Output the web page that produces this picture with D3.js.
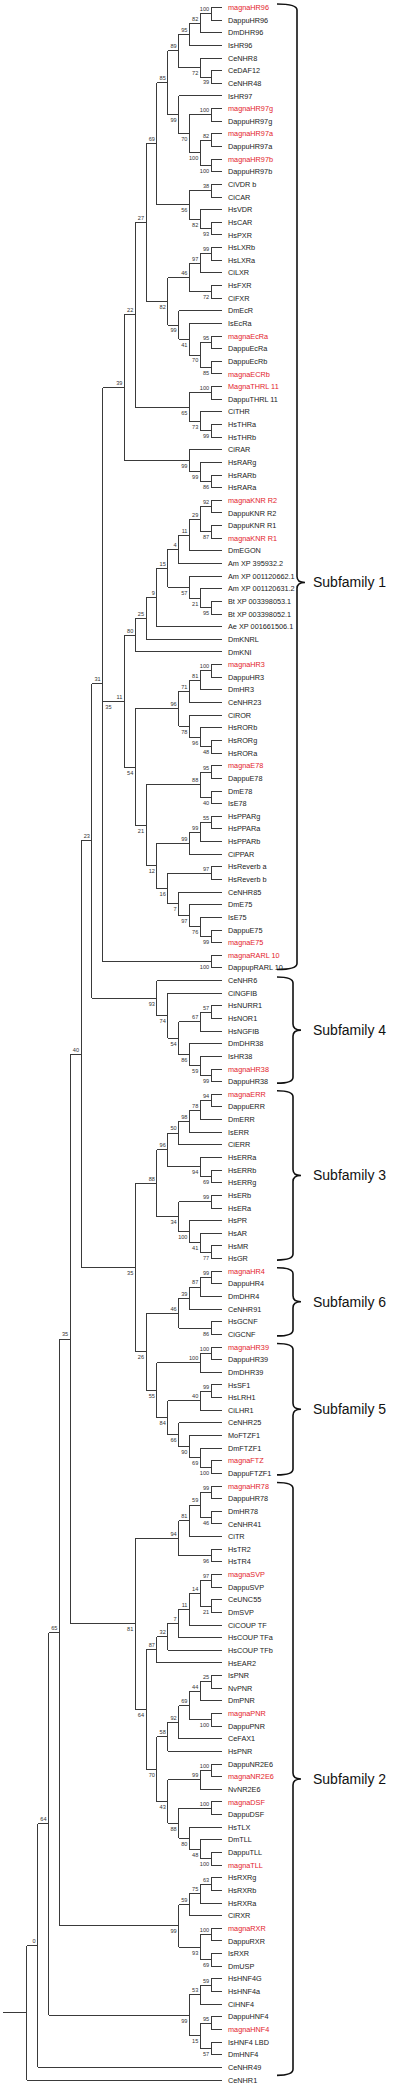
<!DOCTYPE html>
<html>
<head>
<meta charset="utf-8">
<script src="https://cdn.jsdelivr.net/npm/d3@7"></script>
<style>
  html, body { margin: 0; padding: 0; background: #fff; }
  svg { display: block; }
</style>
</head>
<body>
<script>
// ---------- DATA (tree topology with bootstrap support, in Newick pieces) ----------
const cladeHR96 = "(((((magnaHR96,DappuHR96)100,DmDHR96)82,IsHR96)95,(CeNHR8,(CeDAF12,CeNHR48)39)72)89,(IsHR97,((magnaHR97g,DappuHR97g)100,((magnaHR97a,DappuHR97a)82,(magnaHR97b,DappuHR97b)100)100)70)99)85";
const cladeVDR = "(('CiVDR b',CiCAR)38,(HsVDR,(HsCAR,HsPXR)93)82)56";
const cladeEcR = "((((HsLXRb,HsLXRa)99,CiLXR)97,(HsFXR,CiFXR)72)46,(DmEcR,(IsEcRa,((magnaEcRa,DappuEcRa)95,(DappuEcRb,magnaECRb)85)70)41)99)82";
const cladeTHR = "(('MagnaTHRL 11','DappuTHRL 11')100,(CiTHR,(HsTHRa,HsTHRb)99)73)65";
const cladeRAR = "(CiRAR,(HsRARg,(HsRARb,HsRARa)86)99)99";
const cladeKNR = "((((((((('magnaKNR R2','DappuKNR R2')92,('DappuKNR R1','magnaKNR R1')87)29,DmEGON)11,'Am XP 395932.2')4,('Am XP 001120662.1',('Am XP 001120631.2',('Bt XP 003398053.1','Bt XP 003398052.1')95)21)57)15,'Ae XP 001661506.1')9,DmKNRL)25,DmKNI)80";
const cladeROR = "((((magnaHR3,DappuHR3)100,DmHR3)81,CeNHR23)71,(CiROR,(HsRORb,(HsRORg,HsRORa)48)96)78)96";
const cladeE78 = "(((magnaE78,DappuE78)95,(DmE78,IsE78)40)88,((((HsPPARg,HsPPARa)55,HsPPARb)99,CiPPAR)99,(('HsReverb a','HsReverb b')97,(CeNHR85,(DmE75,(IsE75,(DappuE75,magnaE75)99)76)97)7)16)12)21";
const cladeRARL = "('magnaRARL 10','DappupRARL 10')100";
const cladeNR4 = "(CeNHR6,(CiNGFIB,(((HsNURR1,HsNOR1)57,HsNGFIB)67,(DmDHR38,(IsHR38,(magnaHR38,DappuHR38)99)59)86)54)74)93";
const cladeNR3 = "((((((magnaERR,DappuERR)94,DmERR)78,IsERR)98,CiERR)50,(HsERRa,(HsERRb,HsERRg)69)94)96,((HsERb,HsERa)99,(HsPR,(HsAR,(HsMR,HsGR)77)41)100)34)88";
const cladeNR6 = "((((magnaHR4,DappuHR4)99,DmDHR4)87,CeNHR91)39,(HsGCNF,CiGCNF)86)46";
const cladeNR5 = "(((magnaHR39,DappuHR39)100,DmDHR39)100,(((HsSF1,HsLRH1)99,CiLHR1)40,(CeNHR25,(MoFTZF1,(DmFTZF1,(magnaFTZ,DappuFTZF1)100)69)90)66)84)55";
const cladeTR = "((((magnaHR78,DappuHR78)99,(DmHR78,CeNHR41)46)59,CiTR)81,(HsTR2,HsTR4)96)94";
const cladeSVP = "((((((magnaSVP,DappuSVP)97,(CeUNC55,DmSVP)21)14,'CiCOUP TF')11,'HsCOUP TFa')7,'HsCOUP TFb')32,HsEAR2)87";
const cladePNR = "(((((IsPNR,NvPNR)25,DmPNR)44,(magnaPNR,DappuPNR)100)69,CeFAX1)92,HsPNR)58";
const cladeTLL = "(((DappuNR2E6,magnaNR2E6)100,NvNR2E6)99,((magnaDSF,DappuDSF)100,(HsTLX,(DmTLL,(DappuTLL,magnaTLL)100)48)80)88)43";
const cladeRXR = "((((HsRXRg,HsRXRb)63,HsRXRa)75,CiRXR)59,((magnaRXR,DappuRXR)100,(IsRXR,DmUSP)69)93)99";
const cladeHNF4 = "(((HsHNF4G,HsHNF4a)59,CiHNF4)53,((DappuHNF4,magnaHNF4)95,('IsHNF4 LBD',DmHNF4)57)15)99";

const treeNewick =
  `(((((((((((((${cladeHR96},${cladeVDR})69,${cladeEcR})27,${cladeTHR})22,${cladeRAR})39,` +
  `(${cladeKNR},(${cladeROR},${cladeE78})54)11)35,${cladeRARL})31,${cladeNR4})23,` +
  `(${cladeNR3},(${cladeNR6},${cladeNR5})26)35)40,` +
  `(${cladeTR},(${cladeSVP},(${cladePNR},${cladeTLL})70)64)81)35,${cladeRXR})65,${cladeHNF4})64,CeNHR49)0,CeNHR1);`;

// Daphnia magna genes highlighted in red
const highlighted = ["magnaHR96","magnaHR97g","magnaHR97a","magnaHR97b","magnaEcRa","magnaECRb",
  "MagnaTHRL 11","magnaKNR R2","magnaKNR R1","magnaHR3","magnaE78","magnaE75","magnaRARL 10",
  "magnaHR38","magnaERR","magnaHR4","magnaHR39","magnaFTZ","magnaHR78","magnaSVP","magnaPNR",
  "magnaNR2E6","magnaDSF","magnaTLL","magnaRXR","magnaHNF4"];

// Subfamily brackets (first leaf, last leaf, leaf beside the brace tip or null = middle)
const subfamilyNames = ["Subfamily 1","Subfamily 4","Subfamily 3","Subfamily 6","Subfamily 5","Subfamily 2"];
const subfamilyFirst = ["magnaHR96","CeNHR6","magnaERR","magnaHR4","magnaHR39","magnaHR78"];
const subfamilyLast  = ["DappupRARL 10","DappuHR38","HsGR","CiGCNF","DappuFTZF1","CeNHR49"];
const subfamilyTip   = ["Am XP 001120662.1", null, null, null, null, null];

// ---------- PARSER ----------
function parseNewick(s) {
  let i = 0;
  function node() {
    const n = {};
    if (s[i] === '(') {
      i++; n.children = [];
      n.children.push(node());
      while (s[i] === ',') { i++; n.children.push(node()); }
      i++; // ')'
    }
    let label = '';
    if (s[i] === "'") { i++; while (s[i] !== "'") label += s[i++]; i++; }
    else { while (i < s.length && !',();'.includes(s[i])) label += s[i++]; }
    if (n.children) n.support = label; else n.name = label;
    return n;
  }
  return node();
}

// ---------- LAYOUT ----------
const W = 400, H = 2085;
const svg = d3.select("body").append("svg").attr("width", W).attr("height", H)
  .style("font-family", "'Liberation Sans', Arial, sans-serif");
svg.append("rect").attr("width", W).attr("height", H).attr("fill", "#fff");

const root = d3.hierarchy(parseNewick(treeNewick));
d3.cluster().size([1, 1]).separation(() => 1)(root);
const n = root.leaves().length;
const yScale = d3.scaleLinear().domain([0.5 / n, 1 - 0.5 / n]).range([7.5, 2080]);
const xScale = d3.scaleLinear().domain([0, 1]).range([16, 222]);
const rowStep = yScale(1.5 / n) - yScale(0.5 / n);

const lineColor = "#3a3a3a";
const g = svg.append("g");

// horizontal branches
g.selectAll("line.h").data(root.descendants().filter(d => d.parent))
  .join("line").attr("class", "h")
  .attr("x1", d => xScale(d.parent.y)).attr("x2", d => xScale(d.y))
  .attr("y1", d => yScale(d.x)).attr("y2", d => yScale(d.x))
  .attr("stroke", lineColor).attr("stroke-width", 1).attr("shape-rendering", "crispEdges");
// vertical connectors
g.selectAll("line.v").data(root.descendants().filter(d => d.children))
  .join("line").attr("class", "v")
  .attr("x1", d => xScale(d.y)).attr("x2", d => xScale(d.y))
  .attr("y1", d => yScale(d.children[0].x)).attr("y2", d => yScale(d.children[d.children.length - 1].x))
  .attr("stroke", lineColor).attr("stroke-width", 1).attr("shape-rendering", "crispEdges");
// root stub
g.append("line").attr("x1", 3).attr("x2", xScale(root.y))
  .attr("y1", yScale(root.x)).attr("y2", yScale(root.x))
  .attr("stroke", lineColor).attr("stroke-width", 1).attr("shape-rendering", "crispEdges");

// leaf labels
g.selectAll("text.leaf").data(root.leaves()).join("text").attr("class", "leaf")
  .attr("x", 228).attr("y", d => yScale(d.x)).attr("dy", "0.35em")
  .attr("font-size", 7.3)
  .attr("fill", d => highlighted.includes(d.data.name) ? "#e3232b" : "#222")
  .text(d => d.data.name);

// bootstrap labels
g.selectAll("text.bs").data(root.descendants().filter(d => d.children && d.parent && d.data.support !== ''))
  .join("text").attr("class", "bs")
  .attr("x", d => xScale(d.y) - 2)
  .attr("y", d => yScale(d.x) + (d.parent.children[0] === d ? -4.5 : 5.5))
  .attr("dy", "0.35em").attr("text-anchor", "end")
  .attr("font-size", 5.6).attr("fill", "#333")
  .text(d => d.data.support);

// subfamily brackets
const leafY = {};
root.leaves().forEach(l => leafY[l.data.name] = yScale(l.x));
subfamilyNames.forEach((name, k) => {
  const x0 = 277, xv = k === 0 ? 297 : 293, xt = xv + 8, r = 6;
  const yTop = leafY[subfamilyFirst[k]] - 3.5;
  const yBot = leafY[subfamilyLast[k]] + (k === 5 ? 8 : 1.5);
  const yMid = subfamilyTip[k] ? leafY[subfamilyTip[k]] + rowStep / 2 : (yTop + yBot) / 2;
  const p = d3.path();
  p.moveTo(x0, yTop);
  p.quadraticCurveTo(xv, yTop, xv, yTop + r);
  p.lineTo(xv, yMid - r);
  p.quadraticCurveTo(xv, yMid, xt, yMid);
  p.quadraticCurveTo(xv, yMid, xv, yMid + r);
  p.lineTo(xv, yBot - r);
  p.quadraticCurveTo(xv, yBot, x0, yBot);
  svg.append("path").attr("d", p.toString()).attr("fill", "none")
    .attr("stroke", "#111").attr("stroke-width", 1.6);
  svg.append("text").attr("x", 313).attr("y", yMid).attr("dy", "0.35em")
    .attr("font-size", 14).attr("fill", "#111").text(name);
});
</script>
</body>
</html>
